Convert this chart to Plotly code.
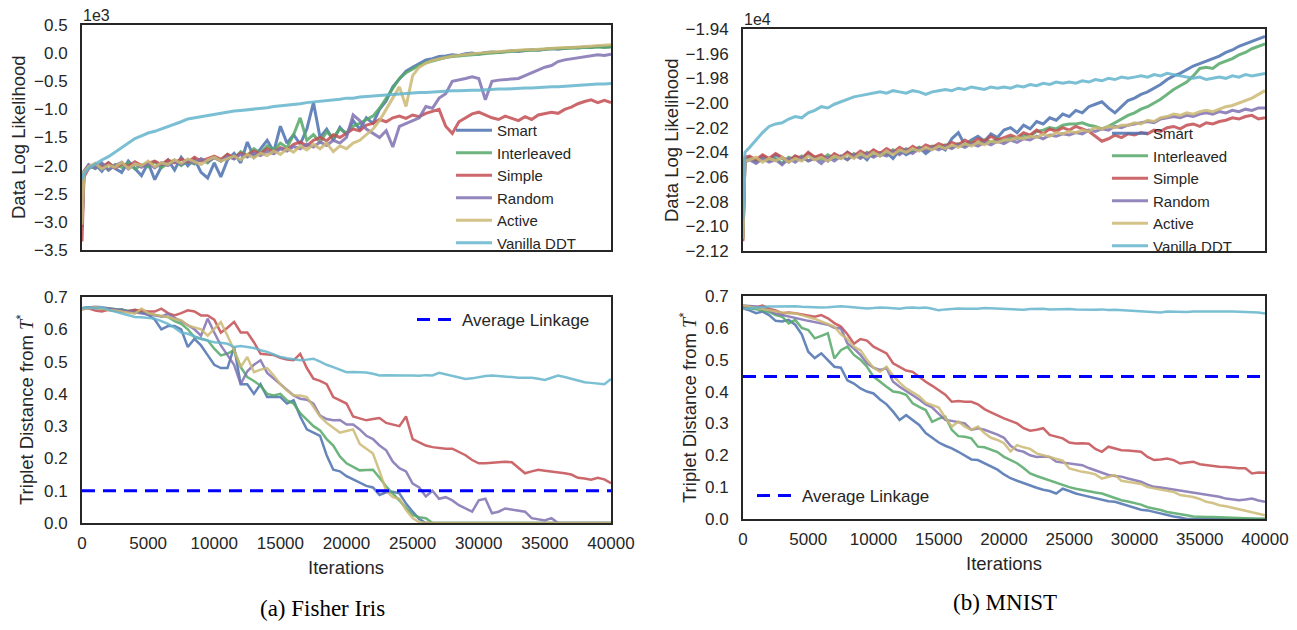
import plotly.graph_objects as go

# ---------------- data ----------------
methods = ["Smart", "Interleaved", "Simple", "Random", "Active", "Vanilla DDT"]
colors = ["#4C72B0", "#55A868", "#C44E52", "#8172B2", "#CCB974", "#64B5CD"]

# iterations for the log-likelihood traces
iters_ll = [0, 150] + list(range(500, 40001, 500))
# iterations for the triplet-distance traces
iters_td = list(range(0, 40001, 500))

# Fisher Iris data log likelihood (x1e3)
iris_ll_smart = [-3.10, -2.15,
    -2.05, -1.98, -2.10, -1.95, -2.05, -2.12, -1.92, -2.05, -2.18, -1.95,
    -2.25, -2.02, -1.90, -2.08, -1.85, -2.00, -1.88, -2.12, -2.22, -1.95,
    -2.20, -1.90, -1.78, -1.95, -1.58, -1.85, -1.70, -1.55, -1.75, -1.30,
    -1.60, -1.45, -1.62, -1.35, -0.88, -1.50, -1.35, -1.55, -1.32, -1.45,
    -1.20, -1.35, -1.15, -1.25, -1.00, -0.85, -0.60, -0.45, -0.32, -0.25,
    -0.18, -0.12, -0.10, -0.06, -0.05, -0.03, -0.04, -0.01, 0.00, -0.02,
    0.01, 0.02, 0.01, 0.03, 0.04, 0.03, 0.05, 0.06, 0.05, 0.07,
    0.08, 0.07, 0.09, 0.10, 0.09, 0.11, 0.10, 0.12, 0.11, 0.12]
iris_ll_interleaved = [-3.00, -2.10,
    -2.00, -2.05, -1.97, -2.08, -1.98, -2.03, -1.95, -2.06, -1.99, -2.02,
    -1.93, -2.04, -1.96, -1.90, -2.00, -1.92, -1.97, -1.88, -1.95, -1.85,
    -1.92, -1.80, -1.88, -1.75, -1.82, -1.70, -1.78, -1.65, -1.72, -1.60,
    -1.68, -1.45, -1.15, -1.55, -1.45, -1.58, -1.40, -1.50, -1.35, -1.42,
    -1.30, -1.25, -1.18, -1.12, -0.98, -0.80, -0.62, -0.45, -0.35, -0.28,
    -0.22, -0.17, -0.14, -0.10, -0.08, -0.06, -0.05, -0.03, -0.02, -0.01,
    0.00, 0.01, 0.02, 0.03, 0.03, 0.04, 0.05, 0.05, 0.06, 0.07,
    0.07, 0.08, 0.08, 0.09, 0.09, 0.10, 0.10, 0.11, 0.10, 0.11]
iris_ll_simple = [-3.35, -2.20,
    -2.05, -1.98, -2.02, -1.95, -2.04, -1.97, -2.01, -1.93, -2.00, -1.96,
    -1.92, -1.98, -1.90, -1.95, -1.88, -1.94, -1.85, -1.92, -1.87, -1.83,
    -1.89, -1.80, -1.86, -1.78, -1.82, -1.74, -1.79, -1.70, -1.76, -1.68,
    -1.72, -1.62, -1.58, -1.65, -1.55, -1.50, -1.56, -1.45, -1.50, -1.42,
    -1.35, -1.38, -1.28, -1.25, -1.18, -1.22, -1.15, -1.12, -1.16, -1.10,
    -1.13, -1.07, -1.04, -1.00, -1.30, -1.43, -1.22, -1.15, -1.08, -1.05,
    -1.10, -1.15, -1.18, -1.12, -1.16, -1.20, -1.13, -1.18, -1.10, -1.08,
    -1.05, -1.07, -1.00, -0.96, -0.90, -0.86, -0.83, -0.88, -0.84, -0.88]
iris_ll_random = [-3.00, -2.10,
    -1.98, -2.05, -1.95, -2.08, -2.00, -1.94, -2.06, -1.97, -2.03, -1.96,
    -2.04, -1.95, -2.00, -1.92, -1.98, -1.90, -1.96, -1.88, -1.93, -1.86,
    -1.92, -1.84, -1.88, -1.80, -1.85, -1.78, -1.82, -1.75, -1.79, -1.70,
    -1.74, -1.66, -1.70, -1.62, -1.67, -1.58, -1.64, -1.55, -1.60, -1.50,
    -1.10, -1.20, -1.35, -1.42, -1.50, -1.38, -1.67, -1.30, -1.25, -1.20,
    -1.15, -0.95, -0.98, -0.80, -0.72, -0.50, -0.48, -0.45, -0.42, -0.45,
    -0.83, -0.50, -0.48, -0.47, -0.46, -0.45, -0.40, -0.35, -0.30, -0.25,
    -0.22, -0.15, -0.12, -0.10, -0.08, -0.06, -0.05, -0.03, -0.04, -0.02]
iris_ll_active = [-3.05, -2.12,
    -2.02, -1.96, -2.06, -1.99, -2.03, -1.94, -2.05, -1.97, -2.00, -1.92,
    -2.02, -1.95, -1.98, -1.90, -1.96, -1.88, -1.93, -1.98, -1.90, -1.85,
    -1.92, -1.87, -1.83, -1.90, -1.80, -1.86, -1.78, -1.82, -1.74, -1.80,
    -1.70, -1.76, -1.65, -1.72, -1.62, -1.70, -1.60, -1.75, -1.65, -1.70,
    -1.60, -1.55, -1.45, -1.35, -1.20, -1.00, -0.80, -0.60, -0.95, -0.40,
    -0.25, -0.18, -0.13, -0.10, -0.07, -0.05, -0.04, -0.02, -0.01, 0.00,
    0.01, 0.02, 0.03, 0.03, 0.04, 0.05, 0.06, 0.06, 0.07, 0.08,
    0.08, 0.09, 0.10, 0.10, 0.11, 0.12, 0.12, 0.13, 0.14, 0.15]
iris_ll_vanilla = [-2.25, -2.15,
    -2.05, -1.97, -1.90, -1.84, -1.76, -1.68, -1.60, -1.52, -1.47, -1.42,
    -1.39, -1.35, -1.31, -1.27, -1.22, -1.17, -1.15, -1.12, -1.10, -1.08,
    -1.06, -1.05, -1.03, -1.02, -1.01, -1.00, -0.98, -0.97, -0.95, -0.94,
    -0.92, -0.91, -0.90, -0.88, -0.87, -0.86, -0.85, -0.83, -0.82, -0.80,
    -0.80, -0.78, -0.77, -0.76, -0.75, -0.75, -0.73, -0.72, -0.72, -0.71,
    -0.70, -0.70, -0.69, -0.68, -0.68, -0.67, -0.67, -0.66, -0.66, -0.66,
    -0.65, -0.65, -0.64, -0.64, -0.63, -0.63, -0.62, -0.62, -0.61, -0.61,
    -0.60, -0.60, -0.59, -0.58, -0.57, -0.57, -0.56, -0.55, -0.55, -0.54]

# MNIST data log likelihood (x1e4)
mnist_ll_smart = [-2.105, -2.046,
    -2.044, -2.047, -2.043, -2.046, -2.042, -2.045, -2.048, -2.043, -2.046, -2.041,
    -2.045, -2.043, -2.047, -2.042, -2.045, -2.040, -2.044, -2.041, -2.046, -2.039,
    -2.043, -2.040, -2.045, -2.038, -2.042, -2.039, -2.036, -2.041, -2.037, -2.035,
    -2.038, -2.029, -2.024, -2.034, -2.030, -2.027, -2.031, -2.025, -2.028, -2.022,
    -2.020, -2.024, -2.018, -2.021, -2.015, -2.017, -2.012, -2.014, -2.009, -2.011,
    -2.006, -2.008, -2.003, -2.001, -1.999, -2.004, -2.008, -2.003, -1.998, -1.996,
    -1.993, -1.991, -1.988, -1.985, -1.981, -1.978, -1.976, -1.973, -1.970, -1.968,
    -1.966, -1.964, -1.962, -1.959, -1.957, -1.954, -1.952, -1.950, -1.948, -1.946]
mnist_ll_interleaved = [-2.110, -2.047,
    -2.045, -2.048, -2.044, -2.047, -2.045, -2.049, -2.044, -2.046, -2.043, -2.047,
    -2.044, -2.046, -2.042, -2.045, -2.043, -2.046, -2.041, -2.044, -2.040, -2.043,
    -2.040, -2.042, -2.038, -2.041, -2.037, -2.039, -2.036, -2.038, -2.035, -2.036,
    -2.034, -2.036, -2.033, -2.035, -2.031, -2.033, -2.030, -2.032, -2.029, -2.031,
    -2.028, -2.029, -2.026, -2.027, -2.023, -2.022, -2.020, -2.021, -2.018, -2.017,
    -2.017, -2.016, -2.018, -2.019, -2.021, -2.019, -2.016, -2.013, -2.010, -2.008,
    -2.005, -2.003, -2.000, -1.997, -1.993, -1.989, -1.986, -1.983, -1.978, -1.972,
    -1.971, -1.972, -1.968, -1.966, -1.964, -1.961, -1.959, -1.956, -1.954, -1.952]
mnist_ll_simple = [-2.112, -2.044,
    -2.043, -2.046, -2.042, -2.045, -2.041, -2.044, -2.047, -2.043, -2.045, -2.040,
    -2.044, -2.042, -2.046, -2.041, -2.044, -2.040, -2.043, -2.039, -2.042, -2.038,
    -2.041, -2.037, -2.040, -2.036, -2.039, -2.035, -2.038, -2.034, -2.036, -2.033,
    -2.035, -2.032, -2.034, -2.030, -2.033, -2.029, -2.031, -2.027, -2.030, -2.028,
    -2.026, -2.028, -2.024, -2.026, -2.022, -2.025, -2.021, -2.023, -2.020, -2.022,
    -2.019, -2.021, -2.023, -2.027, -2.031, -2.029, -2.026, -2.028, -2.025, -2.026,
    -2.024, -2.025, -2.022, -2.023, -2.020, -2.019, -2.021, -2.018, -2.017, -2.019,
    -2.016, -2.017, -2.015, -2.014, -2.012, -2.013, -2.011, -2.010, -2.013, -2.012]
mnist_ll_random = [-2.108, -2.048,
    -2.046, -2.049, -2.045, -2.048, -2.046, -2.050, -2.045, -2.048, -2.044, -2.047,
    -2.045, -2.049, -2.044, -2.047, -2.043, -2.046, -2.042, -2.045, -2.041, -2.044,
    -2.041, -2.043, -2.039, -2.042, -2.038, -2.041, -2.037, -2.039, -2.036, -2.038,
    -2.035, -2.037, -2.034, -2.036, -2.033, -2.035, -2.032, -2.034, -2.031, -2.033,
    -2.030, -2.032, -2.029, -2.030, -2.027, -2.029, -2.026, -2.027, -2.025, -2.026,
    -2.024, -2.025, -2.022, -2.023, -2.021, -2.022, -2.019, -2.020, -2.018, -2.017,
    -2.016, -2.015, -2.016, -2.013, -2.012, -2.011, -2.012, -2.010, -2.011, -2.009,
    -2.008, -2.009, -2.007, -2.008, -2.006, -2.007, -2.005, -2.006, -2.004, -2.004]
mnist_ll_active = [-2.110, -2.047,
    -2.046, -2.044, -2.048, -2.045, -2.047, -2.044, -2.048, -2.045, -2.047, -2.043,
    -2.046, -2.044, -2.047, -2.043, -2.045, -2.042, -2.045, -2.041, -2.044, -2.040,
    -2.043, -2.039, -2.042, -2.038, -2.040, -2.037, -2.039, -2.036, -2.038, -2.035,
    -2.037, -2.034, -2.036, -2.033, -2.035, -2.032, -2.034, -2.031, -2.032, -2.030,
    -2.030, -2.028, -2.029, -2.027, -2.028, -2.025, -2.027, -2.024, -2.025, -2.023,
    -2.024, -2.022, -2.023, -2.020, -2.021, -2.019, -2.020, -2.018, -2.018, -2.016,
    -2.017, -2.014, -2.015, -2.012, -2.011, -2.009, -2.010, -2.008, -2.009, -2.007,
    -2.006, -2.007, -2.005, -2.003, -2.002, -2.000, -1.998, -1.996, -1.993, -1.990]
mnist_ll_vanilla = [-2.095, -2.040,
    -2.036, -2.030, -2.024, -2.019, -2.017, -2.016, -2.013, -2.011, -2.012, -2.008,
    -2.006, -2.003, -2.004, -2.001, -1.999, -1.997, -1.995, -1.994, -1.993, -1.992,
    -1.991, -1.992, -1.990, -1.991, -1.992, -1.990, -1.991, -1.993, -1.991, -1.990,
    -1.989, -1.990, -1.988, -1.989, -1.987, -1.988, -1.989, -1.987, -1.988, -1.987,
    -1.988, -1.986, -1.987, -1.985, -1.986, -1.984, -1.985, -1.983, -1.984, -1.983,
    -1.984, -1.982, -1.983, -1.981, -1.982, -1.980, -1.981, -1.979, -1.980, -1.979,
    -1.978, -1.979, -1.977, -1.978, -1.976, -1.977, -1.978, -1.979, -1.980, -1.979,
    -1.981, -1.980, -1.979, -1.980, -1.978, -1.979, -1.977, -1.978, -1.977, -1.976]

# Fisher Iris triplet distance from T*
iris_td_smart = [0.665, 0.667, 0.668, 0.665, 0.664, 0.660, 0.662, 0.655, 0.660, 0.652, 0.645,
    0.630, 0.600, 0.610, 0.610, 0.600, 0.545, 0.570, 0.550, 0.520, 0.490,
    0.480, 0.480, 0.545, 0.430, 0.430, 0.400, 0.430, 0.390, 0.390, 0.390,
    0.370, 0.380, 0.330, 0.290, 0.280, 0.270, 0.210, 0.165, 0.160, 0.145,
    0.135, 0.124, 0.115, 0.110, 0.087, 0.095, 0.097, 0.092, 0.060, 0.035,
    0.012, 0.0, 0.0, 0.0, 0.0, 0.0, 0.0, 0.0, 0.0, 0.0,
    0.0, 0.0, 0.0, 0.0, 0.0, 0.0, 0.0, 0.0, 0.0, 0.0,
    0.0, 0.0, 0.0, 0.0, 0.0, 0.0, 0.0, 0.0, 0.0, 0.0]
iris_td_interleaved = [0.665, 0.668, 0.666, 0.664, 0.665, 0.662, 0.660, 0.658, 0.655, 0.652, 0.650,
    0.645, 0.640, 0.638, 0.625, 0.617, 0.600, 0.576, 0.570, 0.566, 0.540,
    0.519, 0.525, 0.535, 0.483, 0.452, 0.440, 0.425, 0.400, 0.395, 0.400,
    0.380, 0.370, 0.340, 0.320, 0.300, 0.287, 0.260, 0.240, 0.206, 0.185,
    0.175, 0.163, 0.164, 0.165, 0.140, 0.113, 0.092, 0.070, 0.050, 0.025,
    0.018, 0.015, 0.0, 0.0, 0.0, 0.0, 0.0, 0.0, 0.0, 0.0,
    0.0, 0.0, 0.0, 0.0, 0.0, 0.0, 0.0, 0.0, 0.0, 0.0,
    0.0, 0.0, 0.0, 0.0, 0.0, 0.0, 0.0, 0.0, 0.0, 0.0]
iris_td_simple = [0.662, 0.665, 0.658, 0.655, 0.660, 0.658, 0.655, 0.657, 0.660, 0.658, 0.655,
    0.655, 0.664, 0.650, 0.643, 0.650, 0.659, 0.655, 0.643, 0.643, 0.630,
    0.590, 0.605, 0.623, 0.590, 0.590, 0.560, 0.524, 0.522, 0.520, 0.512,
    0.506, 0.504, 0.524, 0.480, 0.447, 0.440, 0.430, 0.390, 0.380, 0.370,
    0.330, 0.325, 0.318, 0.322, 0.325, 0.310, 0.305, 0.300, 0.330, 0.260,
    0.250, 0.240, 0.235, 0.232, 0.230, 0.230, 0.220, 0.210, 0.195, 0.185,
    0.185, 0.186, 0.188, 0.190, 0.188, 0.170, 0.154, 0.160, 0.165, 0.162,
    0.160, 0.158, 0.154, 0.150, 0.140, 0.138, 0.134, 0.140, 0.135, 0.123]
iris_td_random = [0.665, 0.668, 0.670, 0.668, 0.665, 0.662, 0.660, 0.655, 0.652, 0.650, 0.648,
    0.645, 0.640, 0.648, 0.635, 0.625, 0.612, 0.600, 0.580, 0.633, 0.590,
    0.550, 0.520, 0.490, 0.430, 0.470, 0.490, 0.504, 0.465, 0.447, 0.430,
    0.410, 0.395, 0.385, 0.382, 0.370, 0.333, 0.322, 0.318, 0.319, 0.305,
    0.305, 0.290, 0.270, 0.260, 0.240, 0.225, 0.190, 0.170, 0.160, 0.122,
    0.110, 0.082, 0.100, 0.075, 0.080, 0.070, 0.055, 0.046, 0.035, 0.070,
    0.075, 0.030, 0.035, 0.045, 0.042, 0.040, 0.035, 0.015, 0.012, 0.008,
    0.015, 0.0, 0.0, 0.0, 0.0, 0.0, 0.0, 0.0, 0.0, 0.0]
iris_td_active = [0.662, 0.665, 0.668, 0.665, 0.660, 0.658, 0.655, 0.650, 0.648, 0.664, 0.650,
    0.645, 0.642, 0.638, 0.632, 0.628, 0.612, 0.605, 0.600, 0.580, 0.600,
    0.622, 0.580, 0.535, 0.483, 0.514, 0.467, 0.475, 0.480, 0.457, 0.430,
    0.410, 0.395, 0.395, 0.390, 0.360, 0.330, 0.310, 0.295, 0.280, 0.285,
    0.290, 0.245, 0.230, 0.215, 0.160, 0.100, 0.080, 0.075, 0.040, 0.015,
    0.002, 0.0, 0.0, 0.0, 0.0, 0.0, 0.0, 0.0, 0.0, 0.0,
    0.0, 0.0, 0.0, 0.0, 0.0, 0.0, 0.0, 0.0, 0.0, 0.0,
    0.0, 0.0, 0.0, 0.0, 0.0, 0.0, 0.0, 0.0, 0.0, 0.0]
iris_td_vanilla = [0.665, 0.667, 0.665, 0.668, 0.660, 0.655, 0.648, 0.645, 0.638, 0.637, 0.635,
    0.633, 0.625, 0.617, 0.605, 0.590, 0.586, 0.578, 0.570, 0.565, 0.560,
    0.558, 0.555, 0.545, 0.548, 0.545, 0.542, 0.535, 0.530, 0.522, 0.514,
    0.510, 0.508, 0.504, 0.506, 0.509, 0.500, 0.490, 0.483, 0.475, 0.467,
    0.468, 0.467, 0.466, 0.462, 0.457, 0.458, 0.457, 0.456, 0.457, 0.457,
    0.456, 0.458, 0.457, 0.465, 0.460, 0.455, 0.452, 0.446, 0.448, 0.452,
    0.455, 0.457, 0.456, 0.454, 0.452, 0.450, 0.451, 0.450, 0.447, 0.443,
    0.450, 0.457, 0.452, 0.447, 0.440, 0.436, 0.434, 0.432, 0.430, 0.446]

# MNIST triplet distance from T*
mnist_td_smart = [0.661, 0.655, 0.646, 0.651, 0.640, 0.622, 0.620, 0.625, 0.610, 0.580, 0.525,
    0.505, 0.520, 0.500, 0.478, 0.475, 0.435, 0.425, 0.410, 0.400, 0.394,
    0.375, 0.360, 0.337, 0.311, 0.326, 0.310, 0.295, 0.270, 0.255, 0.240,
    0.230, 0.222, 0.211, 0.200, 0.187, 0.185, 0.175, 0.165, 0.155, 0.140,
    0.128, 0.120, 0.112, 0.105, 0.098, 0.092, 0.088, 0.080, 0.095, 0.088,
    0.080, 0.075, 0.070, 0.064, 0.060, 0.056, 0.054, 0.048, 0.040, 0.035,
    0.029, 0.027, 0.022, 0.017, 0.012, 0.008, 0.005, 0.0, 0.0, 0.0,
    0.0, 0.0, 0.0, 0.0, 0.0, 0.0, 0.0, 0.0, 0.0, 0.0]
mnist_td_interleaved = [0.665, 0.662, 0.660, 0.655, 0.650, 0.640, 0.635, 0.614, 0.625, 0.600, 0.593,
    0.567, 0.575, 0.583, 0.504, 0.530, 0.541, 0.515, 0.500, 0.478, 0.447,
    0.430, 0.415, 0.400, 0.397, 0.390, 0.363, 0.352, 0.342, 0.305, 0.315,
    0.321, 0.280, 0.260, 0.258, 0.253, 0.227, 0.225, 0.218, 0.210, 0.195,
    0.185, 0.175, 0.160, 0.143, 0.135, 0.128, 0.120, 0.113, 0.106, 0.100,
    0.095, 0.090, 0.087, 0.083, 0.080, 0.073, 0.066, 0.059, 0.055, 0.050,
    0.045, 0.037, 0.033, 0.028, 0.022, 0.019, 0.017, 0.012, 0.008, 0.006,
    0.006, 0.006, 0.005, 0.004, 0.004, 0.003, 0.002, 0.002, 0.001, 0.001]
mnist_td_simple = [0.665, 0.668, 0.665, 0.670, 0.660, 0.655, 0.646, 0.648, 0.646, 0.642, 0.640,
    0.635, 0.640, 0.630, 0.615, 0.604, 0.580, 0.550, 0.565, 0.560, 0.541,
    0.530, 0.520, 0.489, 0.478, 0.466, 0.462, 0.445, 0.431, 0.418, 0.405,
    0.390, 0.368, 0.370, 0.368, 0.368, 0.360, 0.345, 0.335, 0.325, 0.316,
    0.308, 0.300, 0.285, 0.277, 0.280, 0.285, 0.264, 0.258, 0.253, 0.240,
    0.237, 0.238, 0.236, 0.220, 0.211, 0.227, 0.222, 0.216, 0.215, 0.213,
    0.211, 0.195, 0.185, 0.187, 0.190, 0.185, 0.174, 0.177, 0.180, 0.172,
    0.169, 0.167, 0.164, 0.163, 0.160, 0.159, 0.159, 0.143, 0.146, 0.145]
mnist_td_random = [0.670, 0.668, 0.667, 0.662, 0.655, 0.645, 0.640, 0.635, 0.630, 0.625, 0.622,
    0.618, 0.613, 0.610, 0.600, 0.598, 0.551, 0.535, 0.515, 0.489, 0.475,
    0.468, 0.473, 0.431, 0.415, 0.402, 0.390, 0.375, 0.360, 0.350, 0.330,
    0.311, 0.308, 0.303, 0.300, 0.280, 0.285, 0.280, 0.273, 0.265, 0.255,
    0.230, 0.216, 0.211, 0.200, 0.195, 0.196, 0.195, 0.180, 0.177, 0.174,
    0.170, 0.169, 0.160, 0.153, 0.145, 0.138, 0.135, 0.133, 0.127, 0.122,
    0.117, 0.108, 0.101, 0.099, 0.096, 0.093, 0.090, 0.087, 0.083, 0.080,
    0.077, 0.075, 0.070, 0.064, 0.062, 0.059, 0.061, 0.064, 0.058, 0.054]
mnist_td_active = [0.670, 0.666, 0.664, 0.660, 0.655, 0.651, 0.648, 0.646, 0.646, 0.640, 0.635,
    0.628, 0.620, 0.612, 0.604, 0.580, 0.565, 0.541, 0.530, 0.500, 0.475,
    0.462, 0.478, 0.450, 0.428, 0.410, 0.398, 0.385, 0.365, 0.358, 0.350,
    0.318, 0.290, 0.306, 0.290, 0.280, 0.290, 0.270, 0.255, 0.248, 0.238,
    0.212, 0.232, 0.225, 0.220, 0.206, 0.200, 0.195, 0.190, 0.183, 0.159,
    0.153, 0.148, 0.145, 0.140, 0.127, 0.132, 0.138, 0.120, 0.117, 0.114,
    0.110, 0.100, 0.096, 0.094, 0.090, 0.085, 0.075, 0.073, 0.069, 0.063,
    0.054, 0.050, 0.043, 0.040, 0.036, 0.031, 0.026, 0.021, 0.016, 0.012]
mnist_td_vanilla = [0.660, 0.662, 0.665, 0.666, 0.667, 0.667, 0.668, 0.667, 0.668, 0.666, 0.665,
    0.664, 0.664, 0.665, 0.667, 0.668, 0.666, 0.664, 0.662, 0.661, 0.662,
    0.664, 0.663, 0.662, 0.660, 0.663, 0.664, 0.662, 0.664, 0.660, 0.655,
    0.658, 0.660, 0.661, 0.660, 0.659, 0.660, 0.662, 0.661, 0.660, 0.661,
    0.660, 0.658, 0.657, 0.659, 0.660, 0.660, 0.658, 0.659, 0.658, 0.659,
    0.658, 0.657, 0.658, 0.657, 0.658, 0.656, 0.657, 0.656, 0.655, 0.654,
    0.652, 0.650, 0.649, 0.648, 0.651, 0.650, 0.649, 0.650, 0.651, 0.650,
    0.651, 0.651, 0.652, 0.651, 0.651, 0.650, 0.649, 0.650, 0.648, 0.645]

# Average-linkage baseline (triplet distance)
avg_linkage_iris = 0.10
avg_linkage_mnist = 0.447
x_extent = [0, 40000]

iris_ll = [iris_ll_smart, iris_ll_interleaved, iris_ll_simple, iris_ll_random, iris_ll_active, iris_ll_vanilla]
mnist_ll = [mnist_ll_smart, mnist_ll_interleaved, mnist_ll_simple, mnist_ll_random, mnist_ll_active, mnist_ll_vanilla]
iris_td = [iris_td_smart, iris_td_interleaved, iris_td_simple, iris_td_random, iris_td_active, iris_td_vanilla]
mnist_td = [mnist_td_smart, mnist_td_interleaved, mnist_td_simple, mnist_td_random, mnist_td_active, mnist_td_vanilla]

# ---------------- figure ----------------
# page body has an 8px margin: the figure is placed at (8, 8) inside the 1297x630 window
OFF = 8
W, H = 1297 - 2 * OFF, 630 - 2 * OFF
FONT = "Liberation Sans, Arial, sans-serif"
TXT = "#262626"

def px_x(p):
    return (p - OFF) / W

def px_y(p):
    return 1 - (p - OFF) / H

fig = go.Figure()
dash_style = "13px,8px"

for i, m in enumerate(methods):
    fig.add_trace(go.Scatter(x=iters_ll, y=iris_ll[i], mode="lines", name=m,
                             line=dict(color=colors[i], width=3), opacity=0.85,
                             xaxis="x", yaxis="y", legend="legend"))
for i, m in enumerate(methods):
    fig.add_trace(go.Scatter(x=iters_ll, y=mnist_ll[i], mode="lines", name=m,
                             line=dict(color=colors[i], width=3), opacity=0.85,
                             xaxis="x2", yaxis="y2", legend="legend2"))
for i, m in enumerate(methods):
    fig.add_trace(go.Scatter(x=iters_td, y=iris_td[i], mode="lines", name=m,
                             line=dict(color=colors[i], width=2.5), opacity=0.85,
                             xaxis="x3", yaxis="y3", showlegend=False))
fig.add_trace(go.Scatter(x=x_extent, y=[avg_linkage_iris] * 2, mode="lines", name="Average Linkage",
                         line=dict(color="#0000FF", width=3, dash=dash_style),
                         xaxis="x3", yaxis="y3", legend="legend3"))
for i, m in enumerate(methods):
    fig.add_trace(go.Scatter(x=iters_td, y=mnist_td[i], mode="lines", name=m,
                             line=dict(color=colors[i], width=2.5), opacity=0.85,
                             xaxis="x4", yaxis="y4", showlegend=False))
fig.add_trace(go.Scatter(x=x_extent, y=[avg_linkage_mnist] * 2, mode="lines", name="Average Linkage",
                         line=dict(color="#0000FF", width=3, dash=dash_style),
                         xaxis="x4", yaxis="y4", legend="legend4"))

dom_x_left = [px_x(82), px_x(611)]
dom_x_right = [px_x(743), px_x(1265)]

axis_common = dict(showline=True, mirror=True, linecolor=TXT, linewidth=2,
                   showgrid=False, zeroline=False, ticks="outside", automargin=False,
                   tickcolor="rgba(0,0,0,0)", tickfont=dict(family=FONT, size=17, color=TXT))

xt = dict(range=[0, 40000], tickvals=list(range(0, 40001, 5000)), tickformat="d",
          ticklen=4, **axis_common)

leg_common = dict(xanchor="left", yanchor="top", bgcolor="rgba(0,0,0,0)")

fig.update_layout(
    template="none",
    width=W, height=H,
    margin=dict(l=0, r=0, t=0, b=0, pad=0, autoexpand=False),
    paper_bgcolor="white", plot_bgcolor="white",
    font=dict(family=FONT, color=TXT),
    xaxis=dict(domain=dom_x_left, anchor="y", showticklabels=False, **xt),
    xaxis2=dict(domain=dom_x_right, anchor="y2", showticklabels=False, **xt),
    xaxis3=dict(domain=dom_x_left, anchor="y3", **xt),
    xaxis4=dict(domain=dom_x_right, anchor="y4", **xt),
    yaxis=dict(domain=[px_y(250), px_y(25)], anchor="x", range=[-3.5, 0.5], dtick=0.5,
               tickformat=".1f", ticklen=9, **axis_common),
    yaxis2=dict(domain=[px_y(251), px_y(29)], anchor="x2", range=[-2.12, -1.94], dtick=0.02,
                tick0=-2.12, tickformat=".2f", ticklen=9, **axis_common),
    yaxis3=dict(domain=[px_y(523), px_y(297)], anchor="x3", range=[0, 0.7], dtick=0.1,
                tickformat=".1f", ticklen=9, **axis_common),
    yaxis4=dict(domain=[px_y(519), px_y(296)], anchor="x4", range=[0, 0.7], dtick=0.1,
                tickformat=".1f", ticklen=9, **axis_common),
    legend=dict(x=px_x(451), y=px_y(114), itemwidth=36,
                font=dict(family=FONT, size=15, color=TXT), **leg_common),
    legend2=dict(x=px_x(1107), y=px_y(117), itemwidth=36,
                 font=dict(family=FONT, size=15, color=TXT), **leg_common),
    legend3=dict(x=px_x(412), y=px_y(302), itemwidth=40,
                 font=dict(family=FONT, size=17, color=TXT), **leg_common),
    legend4=dict(x=px_x(752), y=px_y(478), itemwidth=40,
                 font=dict(family=FONT, size=17, color=TXT), **leg_common),
)

ann = []
title_font = dict(family=FONT, size=18.5, color=TXT)
ann.append(dict(text="Data Log Likelihood", x=px_x(18), y=px_y(137), textangle=-90, font=title_font))
ann.append(dict(text="Data Log Likelihood", x=px_x(671), y=px_y(140), textangle=-90, font=title_font))
tdt = "Triplet Distance from <span style='font-family:Liberation Serif'><i>T</i></span><sup>*</sup>"
ann.append(dict(text=tdt, x=px_x(25), y=px_y(410), textangle=-90, font=title_font))
ann.append(dict(text=tdt, x=px_x(688), y=px_y(408), textangle=-90, font=title_font))
ann.append(dict(text="Iterations", x=px_x(346), y=px_y(567), font=title_font))
ann.append(dict(text="Iterations", x=px_x(1004), y=px_y(563), font=title_font))
ann.append(dict(text="1e3", x=px_x(81), y=px_y(15), xanchor="left", font=dict(family=FONT, size=16, color=TXT)))
ann.append(dict(text="1e4", x=px_x(742), y=px_y(19), xanchor="left", font=dict(family=FONT, size=16, color=TXT)))
cap_font = dict(family="Liberation Serif, Times New Roman, serif", size=23, color="black")
ann.append(dict(text="(a) Fisher Iris", x=px_x(322), y=px_y(623), yanchor="bottom", font=cap_font))
ann.append(dict(text="(b) MNIST", x=px_x(1005), y=px_y(617), yanchor="bottom", font=cap_font))
for a in ann:
    a.update(xref="paper", yref="paper", showarrow=False)
    a.setdefault("xanchor", "center")
    a.setdefault("yanchor", "middle")
fig.update_layout(annotations=ann)

fig.write_html("out.html")
